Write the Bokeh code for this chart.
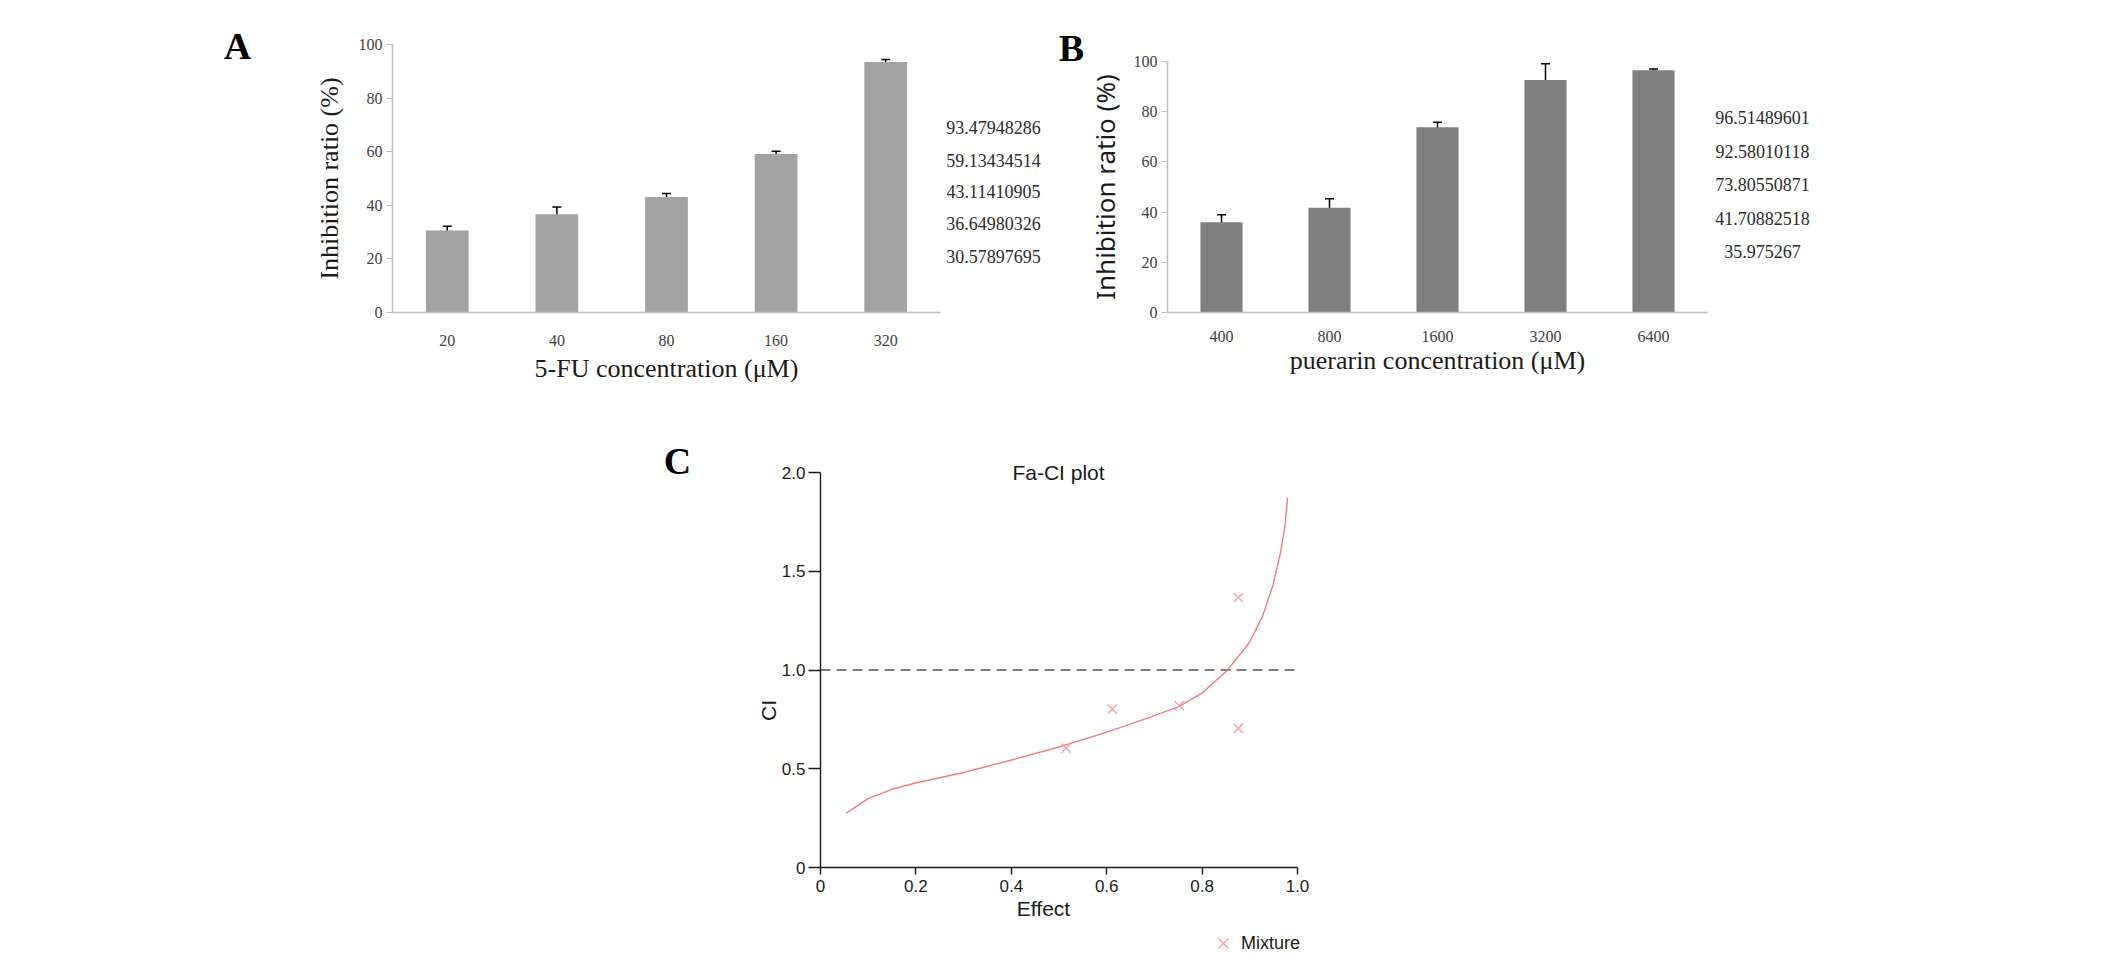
from math import pi

from bokeh.embed import file_html
from bokeh.layouts import column, row
from bokeh.models import (ColumnDataSource, FixedTicker, Label, Legend, LegendItem,
                          LinearAxis, Range1d, Spacer, TeeHead, Whisker)
from bokeh.plotting import figure
from bokeh.resources import INLINE

# --- panel A : 5-FU alone ---
fu_conc = ["20", "40", "80", "160", "320"]
fu_inhib = [30.57897695, 36.64980326, 43.11410905, 59.13434514, 93.47948286]
fu_err = [1.6, 2.7, 1.3, 1.0, 0.9]

# --- panel B : puerarin alone ---
pue_conc = ["400", "800", "1600", "3200", "6400"]
pue_inhib = [35.975267, 41.70882518, 73.80550871, 92.58010118, 96.51489601]
pue_err = [3.0, 3.6, 2.0, 6.5, 0.5]

inhib_ticks = [0, 20, 40, 60, 80, 100]

# --- panel C : Fa-CI plot ---
curve_fa = [0.054, 0.100, 0.150, 0.199, 0.300, 0.399, 0.500, 0.599, 0.699, 0.752,
            0.800, 0.852, 0.900, 0.927, 0.949, 0.964, 0.974, 0.979]
curve_ci = [0.275, 0.349, 0.396, 0.428, 0.481, 0.543, 0.610, 0.684, 0.768, 0.816,
            0.883, 0.996, 1.142, 1.274, 1.433, 1.591, 1.732, 1.873]
mix_fa = [0.515, 0.612, 0.752, 0.876, 0.876]
mix_ci = [0.604, 0.802, 0.820, 1.367, 0.704]
additive_fa = [0.0, 1.0]
additive_ci = [1.0, 1.0]
fa_ticks = [0, 0.2, 0.4, 0.6, 0.8, 1.0]
fa_tick_labels = ["0", "0.2", "0.4", "0.6", "0.8", "1.0"]
ci_ticks = [0, 0.5, 1.0, 1.5, 2.0]
ci_tick_labels = ["0", "0.5", "1.0", "1.5", "2.0"]

SERIF = "Liberation Serif"
SANS = "Liberation Sans"


def pix_range(lo_px, hi_px, v0, px0, v1, px1):
    # range whose ends fall on lo_px / hi_px, given two anchor pixels
    k = (v1 - v0) / (px1 - px0)
    return Range1d(v0 + (lo_px - px0) * k, v0 + (hi_px - px0) * k)


def make_fig(box, xa, ya):
    left, top, w, h = box
    p = figure(width=w, height=h,
               x_range=pix_range(left, left + w, *xa), y_range=pix_range(top + h, top, *ya),
               x_axis_location=None, y_axis_location=None,
               min_border=0, min_border_left=0, min_border_right=0,
               min_border_top=0, min_border_bottom=0,
               output_backend="svg", toolbar_location=None)
    for g in p.grid:
        g.visible = False
    p.outline_line_color = None
    p.background_fill_color = "white"
    return p


def put_text(p, box, text, px, py, size, font, style="normal", color="#333333", angle=0.0):
    left, top, w, h = box
    p.add_layout(Label(text=text, x=px - left, y=h - (py - top), x_units="screen", y_units="screen",
                       text_align="center", text_baseline="middle", angle=angle,
                       text_font=font, text_font_size=size, text_font_style=style,
                       text_color=color))


def bar_panel(box, xa, ya, cats, vals, errs, bar_color, letter, letter_xy, xlabel,
              ylab_font, ylab_standoff, xtick_standoff, xlab_standoff, list_x, list_y):
    xs = [i + 0.5 for i in range(len(cats))]
    src = ColumnDataSource(dict(x=xs, val=vals,
                                upper=[v + e for v, e in zip(vals, errs)],
                                lower=[v - e for v, e in zip(vals, errs)]))
    p = make_fig(box, xa, ya)
    p.vbar(x="x", top="val", width=0.39, source=src, fill_color=bar_color, line_color=None)
    p.add_layout(Whisker(source=src, base="x", upper="upper", lower="lower",
                         line_color="black", line_width=1.5,
                         upper_head=TeeHead(size=9, line_color="black", line_width=1.5),
                         lower_head=TeeHead(size=9, line_color="black", line_width=1.5)))

    xaxis = LinearAxis(fixed_location=0, bounds=(0, len(cats)),
                       ticker=FixedTicker(ticks=xs),
                       major_label_overrides=dict(zip(xs, cats)),
                       axis_label=xlabel)
    yaxis = LinearAxis(fixed_location=0, bounds=(0, 100),
                       ticker=FixedTicker(ticks=inhib_ticks),
                       axis_label="Inhibition ratio (%)")
    for ax in (xaxis, yaxis):
        ax.axis_line_color = "#bfbfbf"
        ax.axis_line_width = 1.6
        ax.major_label_text_font = SERIF
        ax.major_label_text_font_size = "16px"
        ax.major_label_text_color = "#404040"
        ax.minor_tick_line_color = None
        ax.axis_label_text_font_style = "normal"
        ax.axis_label_text_color = "#1a1a1a"
        ax.axis_label_text_font_size = "26px"
    xaxis.major_tick_line_color = None
    xaxis.major_label_standoff = xtick_standoff
    xaxis.axis_label_text_font = SERIF
    xaxis.axis_label_standoff = xlab_standoff
    yaxis.major_tick_line_color = "#bfbfbf"
    yaxis.major_tick_out = 6
    yaxis.major_tick_in = 0
    yaxis.major_label_standoff = 4
    yaxis.axis_label_text_font = ylab_font
    yaxis.axis_label_standoff = ylab_standoff
    p.add_layout(xaxis, "below")
    p.add_layout(yaxis, "left")

    put_text(p, box, letter, letter_xy[0], letter_xy[1], "38px", SERIF, "bold", "black")
    # raw values typed beside the chart, largest first
    for v, py in zip(sorted(vals, reverse=True), list_y):
        put_text(p, box, str(v), list_x, py, "18px", SERIF, color="#2b2b2b")
    return p


# figure boxes: left, top, width, height (page pixels)
box_a = (0, 0, 1050, 400)
box_b = (1050, 0, 910, 400)
box_c = (600, 400, 860, 560)

pa = bar_panel(box_a, (0, 392, 5, 940), (0, 312, 100, 44),
               fu_conc, fu_inhib, fu_err, "#a3a3a3", "A", (237, 45),
               "5-FU concentration (\u03bcM)", SERIF, 12, 16, 5,
               993, [127, 160, 191, 223, 256])
pb = bar_panel(box_b, (0, 1167, 5, 1707), (0, 312, 100, 61),
               pue_conc, pue_inhib, pue_err, "#808080", "B", (1071, 47),
               "puerarin concentration (\u03bcM)", "Noto Sans", 8, 12, 1,
               1762, [117, 151, 184, 218, 251])

# --- panel C ---
pc = make_fig(box_c, (0, 820, 1, 1297), (0, 867, 2, 472))
pc.line(additive_fa, additive_ci, line_color="#555555", line_dash="10 6", line_width=1.4)
pc.line(curve_fa, curve_ci, line_color="#ef7d7d", line_width=1.4)
mix = pc.scatter(mix_fa, mix_ci, marker="x", size=13, line_color="#f2a0a0", line_width=1.4)

cx = LinearAxis(fixed_location=0, bounds=(0, 1), ticker=FixedTicker(ticks=fa_ticks),
                major_label_overrides=dict(zip(fa_ticks, fa_tick_labels)))
cy = LinearAxis(fixed_location=0, bounds=(0, 2), ticker=FixedTicker(ticks=ci_ticks),
                major_label_overrides=dict(zip(ci_ticks, ci_tick_labels)))
for ax in (cx, cy):
    ax.axis_line_color = "#1a1a1a"
    ax.axis_line_width = 1.4
    ax.major_tick_line_color = "#1a1a1a"
    ax.major_tick_line_width = 1.4
    ax.major_tick_in = 0
    ax.minor_tick_line_color = None
    ax.major_label_text_font = SANS
    ax.major_label_text_font_size = "17px"
    ax.major_label_text_color = "#1a1a1a"
cx.major_tick_out = 7
cx.major_label_standoff = 5
cy.major_tick_out = 12
cy.major_label_standoff = 3
pc.add_layout(cx, "below")
pc.add_layout(cy, "left")

put_text(pc, box_c, "C", 677, 460, "38px", SERIF, "bold", "black")
put_text(pc, box_c, "Fa-CI plot", 1058, 472, "21px", SANS, color="#1a1a1a")
put_text(pc, box_c, "Effect", 1043, 908, "21px", SANS, color="#1a1a1a")
put_text(pc, box_c, "CI", 768, 710, "21px", SANS, color="#1a1a1a", angle=pi / 2)

pc.add_layout(Legend(items=[LegendItem(label="Mixture", renderers=[mix])],
                     location=(1205 - 600, 960 - 961), glyph_width=36, glyph_height=36,
                     label_standoff=0, padding=0, margin=0, spacing=0,
                     border_line_color=None, background_fill_alpha=0,
                     label_text_font=SANS, label_text_font_size="18px",
                     label_text_color="#1a1a1a"))

layout = column(row(pa, pb), row(Spacer(width=600, height=10), pc))
open("out.html", "w").write(file_html(layout, INLINE))
